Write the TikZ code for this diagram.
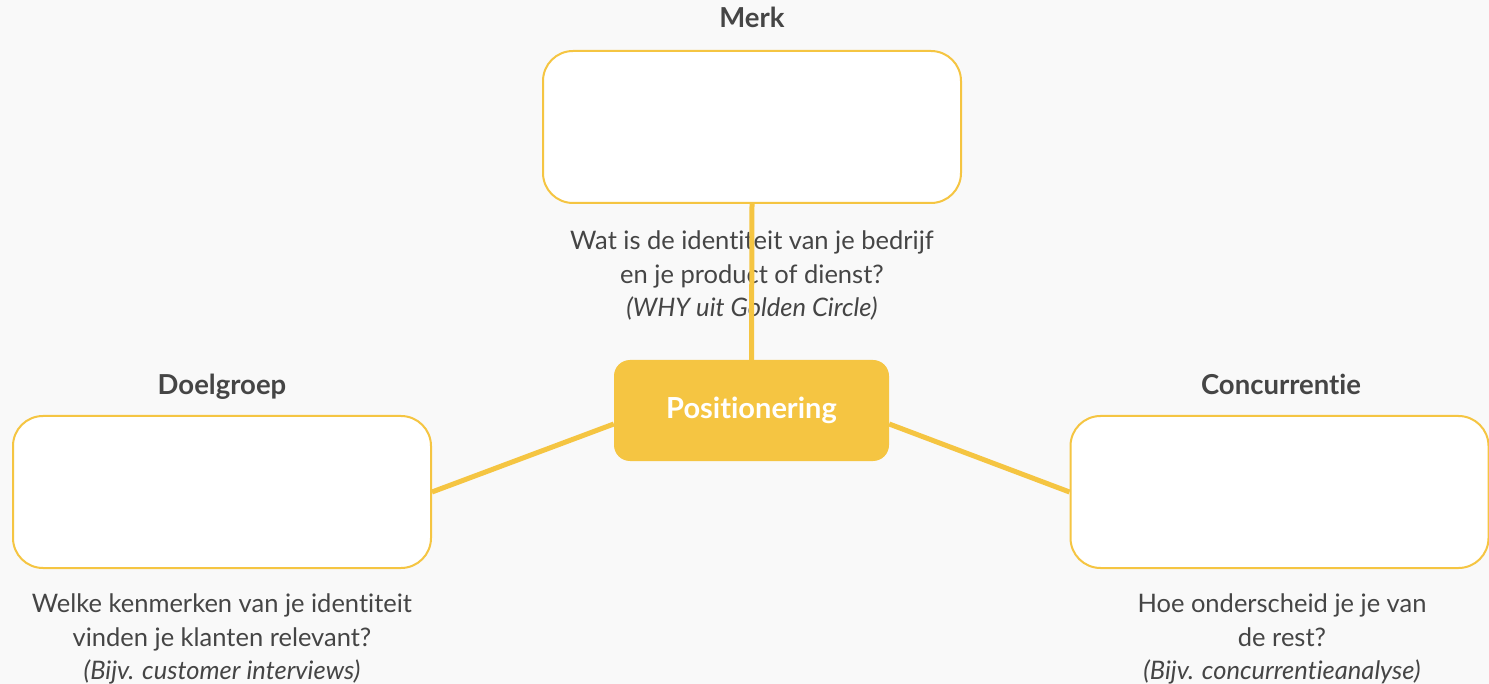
\documentclass[tikz,border=0pt]{standalone}
\usepackage{fontspec}
\setmainfont{Lato}[Ligatures=NoCommon]
\usetikzlibrary{positioning}

\definecolor{geel}{HTML}{F5C542}
\definecolor{achtergrond}{HTML}{F9F9F9}
\definecolor{tekst}{HTML}{454545}

\begin{document}
\begin{tikzpicture}[x=1pt, y=-1pt,
    vak/.style={draw=geel, line width=2pt, fill=white, rounded corners=30pt,
      minimum width=418pt, minimum height=152pt, inner sep=0pt},
    kern/.style={fill=geel, rounded corners=16pt, minimum width=275pt,
      minimum height=101pt, text=white, font=\fontsize{29}{32}\selectfont\bfseries},
    kop/.style={anchor=base, text=tekst, inner sep=0pt, font=\fontsize{27.5}{30}\selectfont\bfseries},
    vraag/.style={anchor=north, align=center, text=tekst, inner sep=0pt,
      font=\fontsize{25.5}{33.5}\selectfont},
    lijn/.style={draw=geel, line width=5pt}]
  \useasboundingbox[fill=achtergrond] (0,0) rectangle (1489,684);

  % de drie vakken rond de kern
  \node[vak] (merk) at (752,127) {};
  \node[vak] (doel) at (222,492) {};
  \node[vak] (conc) at (1279.5,492) {};
  \node[kern] (pos) at (751.5,410.5) {Positionering};

  \node[kop] (merkkop) at (752,28) {Merk};
  \node[kop] (doelkop) at (222,395) {Doelgroep};
  \node[kop] (conckop) at (1281,395) {Concurrentie};

  \node[vraag] (merkvraag) at (752,231) {Wat is de identiteit van je bedrijf\\
    en je product of dienst?\\ \textit{(WHY uit Golden Circle)}};
  \node[vraag] (doelvraag) at (222,594) {Welke kenmerken van je identiteit\\
    vinden je klanten relevant?\\ \textit{(Bijv. customer interviews)}};
  \node[vraag] (concvraag) at (1282,594) {Hoe onderscheid je je van\\
    de rest?\\ \textit{(Bijv. concurrentieanalyse)}};

  % verbindingen
  \draw[lijn] (merk.south) -- (pos.north);
  \draw[lijn] (doel.east) -- ([yshift=-13.5pt]pos.west);
  \draw[lijn] (conc.west) -- ([yshift=-13.5pt]pos.east);
\end{tikzpicture}
\end{document}
